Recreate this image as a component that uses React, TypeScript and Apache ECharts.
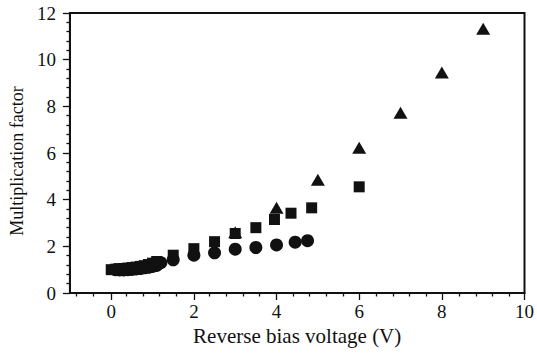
import React, { useEffect, useRef } from "react";
import * as echarts from "echarts";

// Series data: [reverse bias voltage (V), multiplication factor]
const triangleX = [3, 4, 5, 6, 7, 8, 9];
const triangleY = [2.6, 3.65, 4.85, 6.22, 7.72, 9.45, 11.33];

const squareX = [0, 0.1, 0.2, 0.3, 0.4, 0.5, 0.6, 0.7, 0.8, 0.9, 1.0, 1.1, 1.5, 2.0, 2.5, 3.0, 3.5, 3.95, 4.35, 4.85, 6.0];
const squareY = [1.0, 1.02, 1.04, 1.05, 1.07, 1.09, 1.11, 1.14, 1.17, 1.22, 1.28, 1.35, 1.62, 1.9, 2.2, 2.55, 2.8, 3.15, 3.42, 3.65, 4.55];

const circleX = [0.1, 0.2, 0.3, 0.4, 0.5, 0.6, 0.7, 0.8, 0.9, 1.0, 1.1, 1.2, 1.5, 2.0, 2.5, 3.0, 3.5, 4.0, 4.45, 4.75];
const circleY = [1.0, 0.99, 0.99, 1.0, 1.01, 1.03, 1.05, 1.08, 1.1, 1.14, 1.18, 1.3, 1.42, 1.62, 1.72, 1.88, 1.95, 2.06, 2.18, 2.24];

const xMajorTicks = [0, 2, 4, 6, 8, 10];
const xMinorTicks = [-0.8, -0.4, 0.4, 0.8, 1.2, 1.6, 2.4, 2.8, 3.2, 3.6, 4.4, 4.8, 5.2, 5.6, 6.4, 6.8, 7.2, 7.6, 8.4, 8.8, 9.2, 9.6];

const zip = (xs: number[], ys: number[]) => xs.map((x, i) => [x, ys[i]]);

const INK = "#111111";
const FONT = "Liberation Serif";
const GRID = { left: 68, right: 11, top: 13, bottom: 65 };

export default function App() {
  const ref = useRef<HTMLDivElement>(null);
  useEffect(() => {
    if (!ref.current) return;
    const chart = echarts.init(ref.current, null, { renderer: "svg" });
    chart.setOption({
      animation: false,
      backgroundColor: "#ffffff",
      grid: [
        {
          ...GRID,
          show: true,
          borderColor: INK,
          borderWidth: 2,
          backgroundColor: "transparent",
        },
        { ...GRID, show: false },
      ],
      xAxis: [
        {
          type: "value",
          gridIndex: 0,
          min: -1,
          max: 10,
          name: "Reverse bias voltage (V)",
          nameLocation: "middle",
          nameGap: 31,
          nameTextStyle: { fontFamily: FONT, fontSize: 21, color: INK },
          axisLine: { show: true, onZero: false, lineStyle: { color: INK, width: 2 } },
          axisTick: {
            show: true,
            customValues: xMajorTicks,
            length: 7,
            lineStyle: { color: INK, width: 1.3 },
          },
          axisLabel: {
            customValues: xMajorTicks,
            fontFamily: FONT,
            fontSize: 19,
            color: INK,
            margin: 9,
          },
          splitLine: { show: false },
        },
        {
          type: "value",
          gridIndex: 1,
          min: -1,
          max: 10,
          axisLine: { show: false },
          axisTick: {
            show: true,
            customValues: xMinorTicks,
            length: 3.5,
            lineStyle: { color: INK, width: 1.3 },
          },
          axisLabel: { show: false },
          splitLine: { show: false },
        },
      ],
      yAxis: [
        {
          type: "value",
          gridIndex: 0,
          min: 0,
          max: 12,
          interval: 2,
          name: "Multiplication factor",
          nameLocation: "middle",
          nameGap: 41,
          nameTextStyle: { fontFamily: FONT, fontSize: 18, color: INK, padding: [0, 16, 0, 0] },
          axisLine: { show: true, onZero: false, lineStyle: { color: INK, width: 2 } },
          axisTick: { show: true, length: 7, lineStyle: { color: INK, width: 1.3 } },
          minorTick: { show: true, splitNumber: 5, length: 3.5, lineStyle: { color: INK, width: 1.3 } },
          axisLabel: { fontFamily: FONT, fontSize: 19, color: INK, margin: 14 },
          splitLine: { show: false },
        },
        {
          type: "value",
          gridIndex: 1,
          min: 0,
          max: 12,
          show: false,
        },
      ],
      series: [
        {
          type: "scatter",
          name: "circle",
          symbol: "circle",
          symbolSize: 13,
          itemStyle: { color: INK, opacity: 1 },
          data: zip(circleX, circleY),
        },
        {
          type: "scatter",
          name: "square",
          symbol: "rect",
          symbolSize: 11,
          itemStyle: { color: INK, opacity: 1 },
          data: zip(squareX, squareY),
        },
        {
          type: "scatter",
          name: "triangle",
          symbol: "triangle",
          symbolSize: [14, 12],
          itemStyle: { color: INK, opacity: 1 },
          data: zip(triangleX, triangleY),
        },
      ],
    });
    return () => chart.dispose();
  }, []);
  return <div ref={ref} style={{ width: 537, height: 358, position: "absolute", left: 0, top: 0 }} />;
}
